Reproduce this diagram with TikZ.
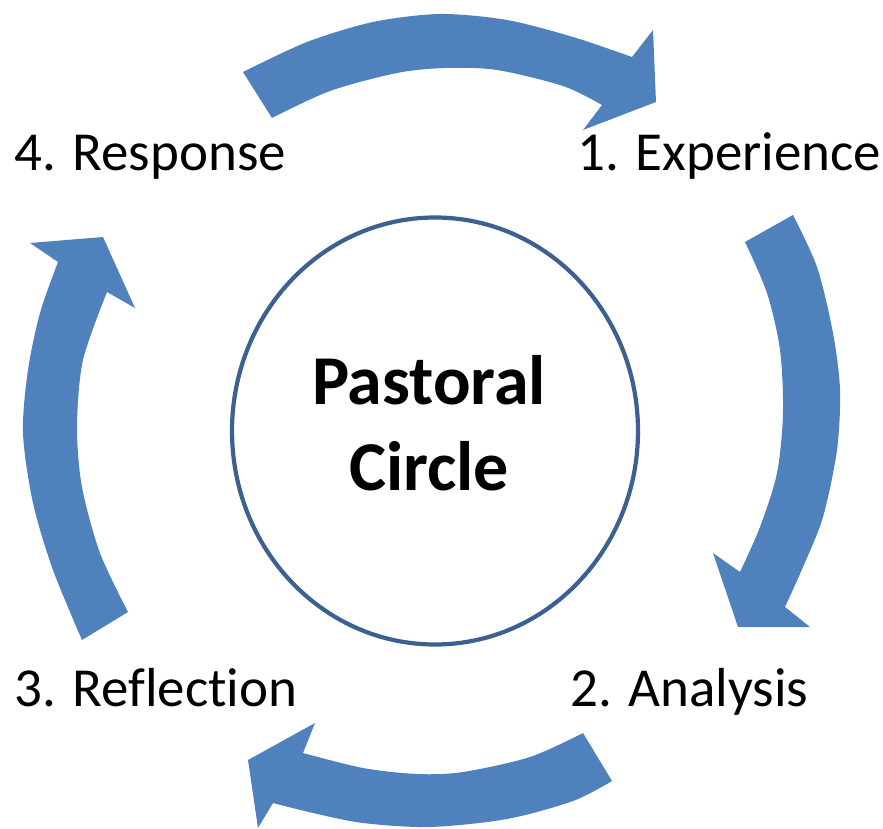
\documentclass[tikz,border=0pt]{standalone}
\usepackage{fontspec}
\setmainfont{Carlito}[Ligatures=NoCommon]
\usetikzlibrary{shapes.geometric}
\definecolor{arrblue}{HTML}{4F81BD}
\definecolor{ringblue}{HTML}{3C6190}
\begin{document}
\begin{tikzpicture}[x=1pt,y=-1pt,
  arr/.style={fill=arrblue},
  lbl/.style={anchor=base west,inner sep=0pt,font=\fontsize{55}{60}\selectfont},
  ring/.style={draw=ringblue,line width=4.2pt,ellipse,minimum width=406pt,minimum height=427pt,inner sep=0pt},
  title/.style={align=center,inner sep=0pt,font=\bfseries\fontsize{70}{86}\selectfont}]
\useasboundingbox (0,0) rectangle (883,829);
% curved block arrows
\fill[arr] plot[smooth] coordinates {(243,72) (307,42) (373,22) (440,14) (507,20) (573,37) (632,57)}
  -- (653,30) -- (656,102) -- (583,130)
  -- plot[smooth] coordinates {(602,105) (563,86) (497,70) (445,68) (397,73) (330,91) (272,118)} -- cycle;
\fill[arr] plot[smooth] coordinates {(793,215) (817,267) (833,333) (840,390) (837,450) (823,517) (803,567) (785,607)}
  -- (810,627) -- (738,627) -- (713,553)
  -- plot[smooth] coordinates {(740,572) (760,527) (777,473) (783,413) (780,350) (767,293) (745,242)} -- cycle;
\fill[arr] plot[smooth] coordinates {(612,781) (573,801) (507,819) (430,827) (363,823) (313,813) (273,803)}
  -- (258,828) -- (248,760) -- (315,723)
  -- plot[smooth] coordinates {(303,753) (363,768) (417,774) (463,772) (530,757) (583,733)} -- cycle;
\fill[arr] plot[smooth] coordinates {(82,640) (53,570) (33,503) (23,433) (28,370) (40,313) (58,262)}
  -- (30,243) -- (103,237) -- (135,308)
  -- plot[smooth] coordinates {(107,292) (83,360) (77,427) (82,487) (100,553) (128,612)} -- cycle;
% centre
\node[ring] (ring) at (435,431) {};
\node[title] (pc) at (429,423) {Pastoral\\Circle};
% labels
\node[lbl] (resp) at (14,171) {4. Response};
\node[lbl] (exp) at (577,171) {1. Experience};
\node[lbl] (refl) at (14,706) {3. Reflection};
\node[lbl] (anal) at (570,706) {2. Analysis};
\end{tikzpicture}
\end{document}
